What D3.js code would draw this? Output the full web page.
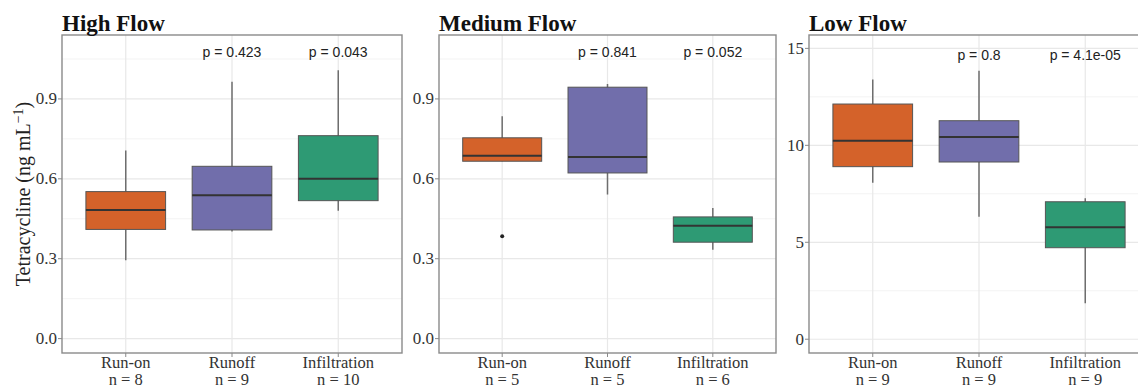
<!DOCTYPE html>
<html>
<head>
<meta charset="utf-8">
<script src="https://cdn.jsdelivr.net/npm/d3@7"></script>
<style>
  body { margin: 0; background: #fff; }
  svg { display: block; }
</style>
</head>
<body>
<script>
// Data
var flows = ["High Flow", "Medium Flow", "Low Flow"];
var groups = ["Run-on", "Runoff", "Infiltration"];
var colors = ["#d4622a", "#716eab", "#2e9a74"];

// box stats per flow: [whisker low, q1, median, q3, whisker high]
var highStats = [[0.294, 0.410, 0.483, 0.552, 0.706],
                 [0.402, 0.408, 0.538, 0.647, 0.964],
                 [0.480, 0.518, 0.600, 0.762, 1.008]];
var mediumStats = [[0.666, 0.666, 0.687, 0.754, 0.835],
                   [0.541, 0.622, 0.682, 0.944, 0.956],
                   [0.334, 0.362, 0.424, 0.457, 0.490]];
var lowStats = [[8.07, 8.90, 10.24, 12.13, 13.40],
                [6.32, 9.14, 10.43, 11.27, 13.85],
                [1.86, 4.72, 5.77, 7.09, 7.27]];
var outliers = [[[], [], []], [[0.384], [], []], [[], [], []]];

var pLabels = [["", "p = 0.423", "p = 0.043"],
               ["", "p = 0.841", "p = 0.052"],
               ["", "p = 0.8", "p = 4.1e-05"]];
var pLabelValue = [1.075, 1.075, 14.65];
var counts = [[8, 9, 10], [5, 5, 6], [9, 9, 9]];

var yTicks = [[0, 0.3, 0.6, 0.9], [0, 0.3, 0.6, 0.9], [0, 5, 10, 15]];
var yMinor = [[0.15, 0.45, 0.75, 1.05], [0.15, 0.45, 0.75, 1.05], [2.5, 7.5, 12.5]];
var yDomains = [[-0.054, 1.14], [-0.054, 1.14], [-0.71, 15.69]];
var tickFormat = [d3.format(".1f"), d3.format(".1f"), d3.format("d")];

var allStats = [highStats, mediumStats, lowStats];

//Width and height
var width = 1138;
var height = 389;

// panel frames (layout)
var panels = [{left: 62, right: 402}, {left: 439, right: 776}, {left: 809, right: 1149}];
var plotTop = 35, plotBottom = 353;

var serif = "'Liberation Serif', 'Times New Roman', serif";
var sans = "'Liberation Sans', Arial, sans-serif";

var svg = d3.select("body")
  .append("svg")
  .attr("width", width)
  .attr("height", height);

panels.forEach(function(p, i){
  var x = d3.scalePoint().domain(groups).range([p.left, p.right]).padding(0.6);
  var y = d3.scaleLinear().domain(yDomains[i]).range([plotBottom, plotTop]);
  var step = x.step();
  var bw = step * 0.75;
  var g = svg.append("g");

  // clip for panels that run off the page
  g.append("clipPath").attr("id", "clip" + i)
    .append("rect").attr("x", p.left).attr("y", plotTop)
    .attr("width", p.right - p.left).attr("height", plotBottom - plotTop);

  //grid: minor then major
  g.selectAll(".minor").data(yMinor[i]).enter().append("line")
    .attr("x1", p.left).attr("x2", p.right)
    .attr("y1", function(d){ return y(d); }).attr("y2", function(d){ return y(d); })
    .attr("stroke", "#f3f3f3").attr("stroke-width", 1);
  g.selectAll(".major").data(yTicks[i]).enter().append("line")
    .attr("x1", p.left).attr("x2", p.right)
    .attr("y1", function(d){ return y(d); }).attr("y2", function(d){ return y(d); })
    .attr("stroke", "#e8e8e8").attr("stroke-width", 1.2);
  g.selectAll(".vgrid").data(groups).enter().append("line")
    .attr("x1", function(d){ return x(d); }).attr("x2", function(d){ return x(d); })
    .attr("y1", plotTop).attr("y2", plotBottom)
    .attr("stroke", "#e8e8e8").attr("stroke-width", 1.2);

  var stats = allStats[i];
  var boxes = g.append("g").attr("clip-path", "url(#clip" + i + ")")
    .selectAll("g.box").data(groups).enter().append("g");

  //whiskers
  boxes.append("line")
    .attr("x1", function(d){ return x(d); }).attr("x2", function(d){ return x(d); })
    .attr("y1", function(d, j){ return y(stats[j][0]); })
    .attr("y2", function(d, j){ return y(stats[j][4]); })
    .attr("stroke", "#6e6e6e").attr("stroke-width", 1.5);

  //box
  boxes.append("rect")
    .attr("x", function(d){ return x(d) - bw / 2; })
    .attr("width", bw)
    .attr("y", function(d, j){ return y(stats[j][3]); })
    .attr("height", function(d, j){ return y(stats[j][1]) - y(stats[j][3]); })
    .attr("fill", function(d, j){ return colors[j]; })
    .attr("stroke", "#555").attr("stroke-width", 1);

  //median
  boxes.append("line")
    .attr("x1", function(d){ return x(d) - bw / 2; })
    .attr("x2", function(d){ return x(d) + bw / 2; })
    .attr("y1", function(d, j){ return y(stats[j][2]); })
    .attr("y2", function(d, j){ return y(stats[j][2]); })
    .attr("stroke", "#333").attr("stroke-width", 2);

  //outliers
  boxes.each(function(d, j){
    d3.select(this).selectAll("circle").data(outliers[i][j]).enter().append("circle")
      .attr("cx", x(d)).attr("cy", function(v){ return y(v); })
      .attr("r", 2).attr("fill", "#222");
  });

  //p values
  g.selectAll(".pval").data(groups).enter().append("text")
    .attr("x", function(d){ return x(d); })
    .attr("y", y(pLabelValue[i]) + 5)
    .attr("text-anchor", "middle")
    .attr("font-family", sans).attr("font-size", 14).attr("fill", "#222")
    .text(function(d, j){ return pLabels[i][j]; });

  //frame
  g.append("rect")
    .attr("x", p.left).attr("y", plotTop)
    .attr("width", p.right - p.left).attr("height", plotBottom - plotTop)
    .attr("fill", "none").attr("stroke", "#8a8a8a").attr("stroke-width", 1.4);

  //y axis ticks and labels
  g.selectAll(".ytick").data(yTicks[i]).enter().append("line")
    .attr("x1", p.left - 4).attr("x2", p.left)
    .attr("y1", function(d){ return y(d); }).attr("y2", function(d){ return y(d); })
    .attr("stroke", "#8a8a8a").attr("stroke-width", 1);
  g.selectAll(".ylab").data(yTicks[i]).enter().append("text")
    .attr("x", p.left - 5)
    .attr("y", function(d){ return y(d) + 5.5; })
    .attr("text-anchor", "end")
    .attr("font-family", serif).attr("font-size", 17).attr("fill", "#333")
    .text(function(d){ return tickFormat[i](d); });

  //x axis ticks and labels
  g.selectAll(".xtick").data(groups).enter().append("line")
    .attr("x1", function(d){ return x(d); }).attr("x2", function(d){ return x(d); })
    .attr("y1", plotBottom).attr("y2", plotBottom + 4)
    .attr("stroke", "#8a8a8a").attr("stroke-width", 1);
  var xl = g.selectAll(".xlab").data(groups).enter().append("text")
    .attr("text-anchor", "middle")
    .attr("font-family", serif).attr("font-size", 16.5).attr("fill", "#333");
  xl.append("tspan")
    .attr("x", function(d){ return x(d); }).attr("y", 368)
    .text(function(d){ return d; });
  xl.append("tspan")
    .attr("x", function(d){ return x(d); }).attr("y", 385)
    .text(function(d, j){ return "n = " + counts[i][j]; });

  //title
  g.append("text")
    .attr("x", p.left).attr("y", 31)
    .attr("font-family", serif).attr("font-size", 23).attr("font-weight", "bold")
    .attr("fill", "#111")
    .text(flows[i]);
});

//y axis title
var yt = svg.append("text")
  .attr("transform", "translate(30," + ((plotTop + plotBottom) / 2) + ") rotate(-90)")
  .attr("text-anchor", "middle")
  .attr("font-family", serif).attr("font-size", 20).attr("fill", "#222");
yt.append("tspan").text("Tetracycline (ng mL");
yt.append("tspan").attr("dy", -7).attr("font-size", 14).text("\u22121");
yt.append("tspan").attr("dy", 7).text(")");
</script>
</body>
</html>
